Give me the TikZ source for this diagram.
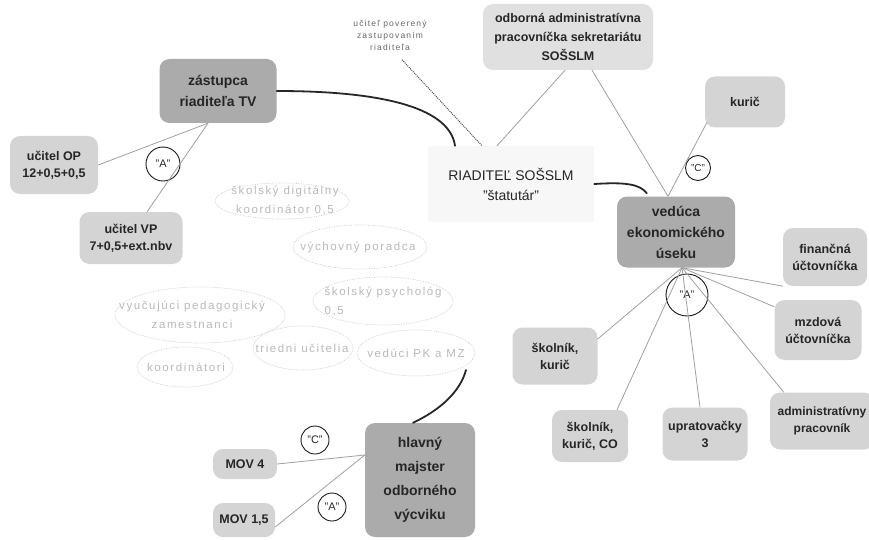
\documentclass[tikz,border=0pt]{standalone}
\usepackage{fontspec}
\setmainfont{Liberation Sans}
\newfontfamily\ovalfont[LetterSpace=14]{Liberation Sans}
\usepackage{tikz}
\usetikzlibrary{shapes.geometric}
\usepackage{xcolor}

\tikzset{
	box/.style={rectangle, rounded corners=10pt, fill=gray!34, text=black!85, align=center, inner sep=2pt, font=\fontsize{12.5}{17}\selectfont\bfseries},
	headbox/.style={box, fill=gray!66, font=\fontsize{14}{21}\selectfont\bfseries},
	riadbox/.style={rectangle, fill=gray!6, text=black!85, align=center, font=\fontsize{14}{20}\selectfont},
	oval text/.style={text=gray!55, align=center, inner sep=0pt, font=\ovalfont\fontsize{11.5}{19}\selectfont},
	oval/.style={draw=gray!40, densely dotted, line width=0.7pt},
	tag/.style={circle, draw=black!90, line width=0.9pt, inner sep=0pt, text=black!85, font=\fontsize{11}{11}\selectfont},
	link/.style={draw=gray!75, line width=0.8pt},
	bold link/.style={draw=black!85, line width=1.8pt, line cap=round},
	dotted link/.style={draw=black!70, line width=1pt, densely dotted},
}

\begin{document}
\begin{tikzpicture}[x=1pt,y=-1pt]
	\useasboundingbox (0,0) rectangle (869,540);
	% vedenie skoly
	\node[riadbox, minimum width=166pt, minimum height=76pt] (riad) at (511,184) {RIADITEĽ SOŠSLM\\"štatutár"};
	\node[headbox, minimum width=117pt, minimum height=64pt] (zast) at (218,91) {zástupca\\riaditeľa TV};
	\node[headbox, minimum width=118pt, minimum height=71pt] (ved) at (676,232) {vedúca\\ekonomického\\úseku};
	\node[headbox, minimum width=110pt, minimum height=114pt, font=\fontsize{14}{24}\selectfont\bfseries] (hlav) at (420,480) {hlavný\\majster\\odborného\\výcviku};
	\node[text=black!60, align=center, font=\ovalfont\fontsize{8.5}{12}\selectfont] (teach) at (390,35) {učiteľ poverený\\zastupovaním\\riaditeľa};
	% zastupca TV
	\node[box, minimum width=88pt, minimum height=58pt] (op) at (54,165) {učitel OP\\12+0,5+0,5};
	\node[box, minimum width=103pt, minimum height=52pt] (vp) at (131,238) {učitel VP\\7+0,5+ext.nbv};
	% ekonomicky usek
	\node[box, fill=gray!24, minimum width=170pt, minimum height=66pt, font=\fontsize{12.5}{19}\selectfont\bfseries] (odb) at (568,37) {odborná administratívna\\pracovníčka sekretariátu\\SOŠSLM};
	\node[box, minimum width=80pt, minimum height=51pt] (kuric) at (745,102) {kurič};
	\node[box, minimum width=84pt, minimum height=58pt] (fin) at (825,257) {finančná\\účtovníčka};
	\node[box, minimum width=87pt, minimum height=60pt] (mzd) at (818,330) {mzdová\\účtovníčka};
	\node[box, minimum width=104pt, minimum height=57pt, font=\fontsize{12}{17}\selectfont\bfseries] (adm) at (822,421) {administratívny\\pracovník};
	\node[box, minimum width=85pt, minimum height=53pt] (upr) at (705,434) {upratovačky\\3};
	\node[box, minimum width=76pt, minimum height=52pt] (skco) at (590,436) {školník,\\kurič, CO};
	\node[box, minimum width=85pt, minimum height=57pt] (skk) at (555,356) {školník,\\kurič};
	% majstri
	\node[box, minimum width=64pt, minimum height=30pt] (mov4) at (245,464) {MOV 4};
	\node[box, minimum width=62pt, minimum height=34pt] (mov15) at (244,520) {MOV 1,5};
	% pedagogicki zamestnanci
	\node[oval text] (digi) at (285,201) {školský digitálny\\koordinátor 0,5};
	\node[oval text] (vych) at (358,247) {výchovný poradca};
	\node[oval text, align=left] (psych) at (383,301) {školský psychológ\\0,5};
	\node[oval text] (ped) at (192,315) {vyučujúci pedagogický\\zamestnanci};
	\node[oval text] (tried) at (302,348) {triedni učitelia};
	\node[oval text] (koord) at (186,367) {koordinátori};
	\node[oval text] (pkmz) at (416,353) {vedúci PK a MZ};
	\foreach \n/\cx/\rx/\ry in {digi/282/67/18, vych/360/67/22, psych/383/70/24, ped/200/85/28, tried/303/50/22, koord/185/48/20, pkmz/416/59/23}
		\draw[oval] (\cx,0 |- \n) ellipse [x radius=\rx, y radius=\ry];
	% kruzky
	\node[tag, minimum size=34pt] (a1) at (163,164) {"A"};
	\node[tag, minimum size=25pt, font=\fontsize{10}{10}\selectfont] (c1) at (698,168) {"C"};
	\node[tag, minimum size=42pt] (a2) at (687,295) {"A"};
	\node[tag, minimum size=28pt] (c2) at (315,440) {"C"};
	\node[tag, minimum size=28pt] (a3) at (332,507) {"A"};

	\coordinate (zfan) at ([xshift=-10pt]zast.south);
	\draw[link] (zfan) -- (op.east);
	\draw[link] (zfan) -- ([xshift=16pt]vp.north);
	\draw[bold link] (zast.east) .. controls (390,91) and (450,110) .. ([xshift=-56pt]riad.north);
	\draw[dotted link] ([xshift=12pt,yshift=-6pt]teach.south) -- ([xshift=-29pt]riad.north);
	\draw[link] ([xshift=-3pt]odb.south) -- ([xshift=-14pt]riad.north);
	\coordinate (vtop) at ([xshift=-8pt]ved.north);
	\draw[link] ([xshift=24pt]odb.south) -- (vtop);
	\draw[link] ([xshift=2pt,yshift=5pt]kuric.south west) -- (vtop);
	\draw[bold link] (riad.east) .. controls (625,182) and (640,184) .. ([xshift=30pt,yshift=3pt]ved.north west);
	% vejar od veducej
	\coordinate (vbot) at ([xshift=6pt]ved.south);
	\draw[link] (vbot) -- (fin.south west);
	\draw[link] (vbot) -- ([yshift=-7pt]mzd.north west);
	\draw[link] (vbot) -- ([xshift=14pt]adm.north west);
	\draw[link] (vbot) -- ([xshift=-5pt]upr.north);
	\draw[link] (vbot) -- ([xshift=27pt]skco.north);
	\draw[link] (vbot) -- ([yshift=17pt]skk.east);
	% majstri
	\coordinate (hfan) at ([yshift=25pt]hlav.west);
	\draw[link] (hfan) -- (mov4.east);
	\draw[link] (hfan) -- ([yshift=-7pt]mov15.east);
	\coordinate (hend) at (466,370);
	\draw[bold link] ([xshift=-7pt]hlav.north) .. controls (440,410) and (460,392) .. (hend);
\end{tikzpicture}
\end{document}
